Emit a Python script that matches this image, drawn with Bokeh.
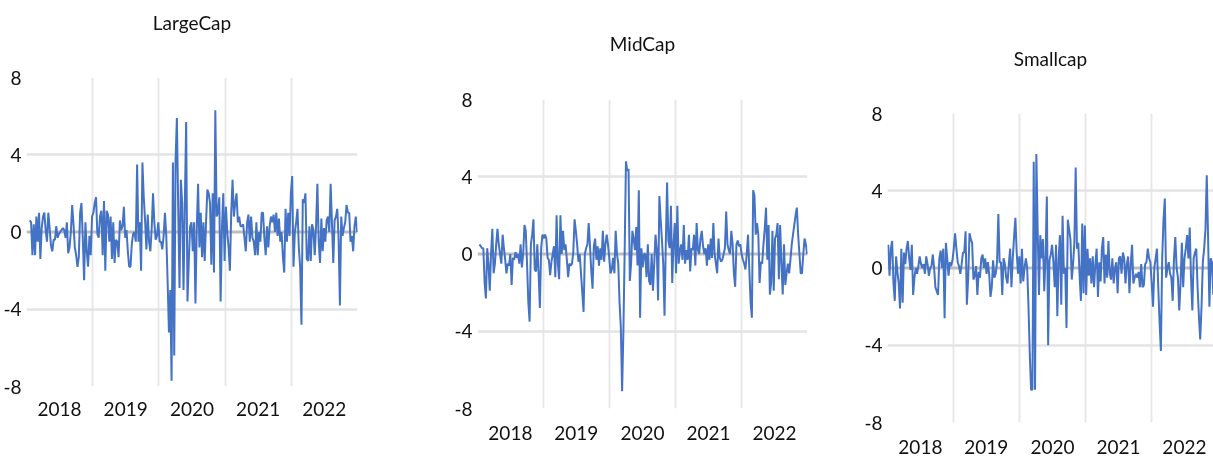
import pandas as pd
from bokeh.plotting import figure
from bokeh.models import FixedTicker, Range1d, Span, Title
from bokeh.embed import file_html
from bokeh.resources import INLINE

titles = ["LargeCap", "MidCap", "Smallcap"]
year_labels = ["2018", "2019", "2020", "2021", "2022"]
year_bounds = ["2019-01-01", "2020-01-01", "2021-01-01", "2022-01-01"]
y_ticks = [-8, -4, 0, 4, 8]
y_labels = ["-8", "-4", "0", "4", "8"]

large_cap = [0.6, 0.5, -1.2, 0.4, -1.2, 0.8, -0.5, 1.0, -1.4, 0.2, 0.8, 1.0, 0.1, -0.5, 1.0, 0.2, -0.7, -1.0,
             -0.4, -0.4, 0.3, -0.3, -0.1, 0.0, 0.1, 0.2, 0.1, -0.3, 0.5, -1.1, -0.8, 0.0, 1.4, 0.4, -0.8, -1.2,
             -1.8, -1.3, 1.0,
             1.5, -0.3, -2.5, 0.5, -1.0, -1.8, -0.2, -1.2, 0.8, 1.0, 1.5, 1.8, -0.1, -0.3, 0.8, 1.1, -1.2, 1.6,
             -2.0, 1.1, 0.9, -0.5, 0.8, -1.4, 0.5, -1.6, -0.4, -0.5, -1.3, 0.6, 0.1, 0.3, 1.3, -0.3, 0.1, -1.0,
             -1.8, -1.8, -0.6, -0.1, 0.0, -0.5, 3.5, -0.5, 0.5, -2.0, 3.6, 1.8, 0.6, -0.9, 0.9, -0.5, -1.0, 0.2,
             2.0, 0.5, -0.4, -0.2, 0.5, -0.5, -0.5, -0.9, -0.2, 1.0, -0.2, -2.5, -5.2, -3.0, -7.7, 3.6, -6.4, 3.7,
             5.9, 1.2, -2.9, 2.7, 1.5, -3.0, 1.5, 5.7, -3.6, -1.5, 0.3, 0.5, -1.0, 0.5, -3.7, 0.2, 2.5,
             -0.8, 1.0, -1.3, 0.5, -1.5, 0.5, 2.2, 2.0, 1.5, -1.7, 2.0, -2.1, 6.3, 0.8, 1.0, 1.8, -3.6, 0.2, 2.0,
             -1.5, 1.3, 0.0, -0.8, -2.0, 1.0, 2.7, 0.8, 1.5, 2.0, 0.5, 0.8, 0.3, 0.3, 0.4, -0.3, -1.0, 0.5, 0.9,
             -0.5, 0.8, -0.3, -0.5, -1.2, 0.5, -1.2, 0.0, -0.5, 1.0, 1.0, -0.3, -1.2, 0.3, -0.8, 0.3, 0.8,
             0.5, 0.9, 0.0, 1.0, -0.2, 0.7, -0.5, 0.0, -1.3, -2.1, 1.2, -0.5, 1.0, -0.2, 2.0, 2.9, -1.8, 0.0, 0.5,
             1.2, -0.8, -1.8, -4.8, 1.7, 1.5, 2.0, -1.4, -1.5, 0.3, -1.5, 0.4, 0.1, -1.2, 0.3, 2.5, -0.5, -1.6,
             0.7, -1.0, 0.2, -0.5, 0.6, 0.8, 0.0, 2.5, 0.5, -1.6, 0.6, 0.8, 1.2, -0.3, -3.8, 0.8, -0.2, 0.2, 0.5,
             1.4, 1.0, 1.0, -0.5, -0.2, -1.0, 0.3, 0.8, 0.0]

mid_cap = [0.5, 0.4, 0.3, 0.3, -1.5, -2.3, 0.3, -0.5, -1.9, 0.0, 1.3, -1.0, -0.5, 0.5, 1.3, 0.5, 0.0, -0.5,
           1.0, 0.3, -0.3, -1.0, -0.5, -0.6, 0.0, -1.6, -0.2, -0.3, 0.1, -0.2, 0.0, -0.5, 0.5, -0.7, 0.0, 1.5,
           1.2, -0.5, -2.5, -3.5, 0.5, 1.0, 1.8, -0.8, -0.9, 0.5, -1.0, -2.8, 0.3, 1.0, 0.8, 1.0, 0.8, -0.2,
           -0.3, -1.1, -0.4, 0.0, 0.4, -1.2, 2.0, -0.5, -1.3, 2.0, 0.0, 1.2, 0.2, 0.5, -0.3, -1.2, -0.5, -0.6,
           -0.5, 0.1, 1.8, 1.2, 0.5, -0.4, 0.0, -1.0, -2.0, -3.0, 0.0, 0.3, 0.5, 1.6, 0.4, -0.9, -1.8, 0.4, 0.8,
           -0.3, 0.4, -0.6, 0.3, -0.3, 1.2, -0.4, 0.5, 1.0, 0.5, -0.2, -1.0, -0.8, -0.2, -1.0, 1.2, 0.0, -0.5,
           -2.5, -3.8, -7.1, -4.0, 0.2, 4.8, 4.3, 4.4, -1.4, -0.5, 1.2, 0.8, 0.2, 1.4, -0.6, 3.3, -3.3, 0.3,
           -0.7, 0.0, 0.0, -1.2, 0.5, -1.4, -1.6, 0.0, -1.9, -0.5, 1.0, 0.2, -2.4, 3.0, 1.8, 0.7, -0.5, -3.2,
           0.5, 3.7, 0.7, 0.3, 2.5, -1.5, 0.5, 1.6, -1.0, 2.5, -0.5, 0.2, 0.5, -0.3, 1.5, -0.5, 0.2, -0.3, 1.0,
           -0.9, 0.3, 0.2, 1.0, -0.6, 1.6, 0.2, 0.0, 0.8, 1.2, 0.4, 0.0, 0.3, -0.6, 0.5, -0.3, 0.8, -0.2, 1.6,
           0.0, -0.5, -1.0, 0.8, -0.2, -0.4, -0.3, 0.0, 0.3, 2.2, 0.5, 0.2, 0.0, 1.2, 0.5, -1.0, -1.7, 0.5, 0.7,
           0.4, 0.5, 0.0, -0.3, -0.5, -0.8, 0.0, 1.0, -0.8, -2.5, -3.3, 3.3, 3.0, 1.0, 1.6, 1.0, -1.5, -0.4,
           -0.5, 0.5, 1.3, 2.4, -0.3, 1.5, -2.1, -1.5, 1.2, -1.9, 0.8, 1.0, 1.6, -1.3, 1.5, -0.5, -2.1, 0.5,
           -1.6, -1.0, -0.5, -1.0, -0.3, 0.5, 1.0, 1.5, 2.0, 2.4, 1.0, 0.0, -1.0, -1.0, 0.0, 0.8, 0.5, 0.0]

small_cap = [1.2, -0.4, 1.0, 1.4, -0.8, -1.7, 0.6, -0.2, -0.8, -2.1, 1.0, -1.8, 0.8, 0.2, 1.0, 1.4, 0.5, -0.1,
             1.2, -1.4, -0.5, 0.0, -0.3, 0.1, 0.6, 0.2, 0.0, 0.2, -0.3, 0.6, 0.2, -0.4, 0.0, 0.1, 0.7, 0.0, -1.0,
             -1.2, -1.4, 0.5, 0.9, 0.0, 1.0, -2.6, 1.3, 0.5, -0.4, 0.3, 0.1, 0.4, 1.0, 1.8, 1.0, 0.3, 0.1, -0.3,
             0.2, 0.8, 0.8, 1.9, -1.9, -0.5, 1.8, 1.5, 1.3, -0.6, -0.4, 0.1, -1.4, -0.2, -0.5, 0.5, 0.7, 0.0, 0.5,
             -0.3, 0.3, -0.3, -1.5, -1.0, 0.4, -0.5, -0.3, 0.3, 2.8, 0.3, 0.3, -1.4, 0.5, 0.2, -0.5, -0.8, 0.2,
             1.0, -1.0, 0.5, 1.6, 2.6, 0.8, -0.3, 0.6, -0.8, 1.0, -0.7, 0.0, 0.5, 0.0, -2.0, -4.5, -6.3, -6.3,
             5.5, -6.3, 5.9, 2.0, -1.4, 1.7, 0.5, 1.5, -1.2, 0.6, 3.7, -4.0, 0.4, 0.7, 1.2, 0.3, -1.0, 1.2, -2.5,
             0.5, 1.7, -1.9, 2.7, -0.3, 0.0, -3.1, 2.5, 2.0, 1.5, -0.6, 0.2, 1.3, 5.2, 1.0, 1.3, -0.4, -1.7, 2.3,
             -1.3, 2.2, -1.4, 1.0, -0.4, 0.5, -0.8, 0.6, -1.0, 0.2, 1.0, -1.5, 0.3, -0.7, 1.0, 1.6, -0.8, 0.7,
             -0.5, 1.4, -0.3, -0.6, 0.5, -0.8, 0.0, 0.3, -1.3, 0.5, 0.6, -0.3, 0.8, 0.5, -0.8, 0.2, 0.6, -1.3,
             0.2, 1.2, -0.8, -0.5, -0.3, -0.5, -0.2, -1.0, 0.2, -1.0, -0.9, 0.2, 0.3, 1.0, 0.5, 0.3, -0.8, -2.0,
             0.0, 0.5, 1.0, -1.0, -2.8, -4.3, 0.5, 2.5, 3.6, -0.5, 0.0, 0.3, -0.3, -0.5, -1.7, 0.5, 1.6, 0.0,
             -0.5, -2.2, -0.8, 1.3, -1.0, 0.5, 1.0, 1.7, 0.5, 2.1, -0.5, -2.2, 0.5, 0.8, 1.0, -1.0, -2.5, -3.7,
             -2.0, 0.3, 1.0, 2.0, 4.8, 1.6, -2.0, 0.5, 0.3, -1.4]

series = [large_cap, mid_cap, small_cap]
data_start = ["2018-01-19", "2018-01-12", "2018-01-05"]
data_end = ["2022-12-30", "2022-12-30", "2022-12-09"]
range_end = ["2023-01-01", "2023-01-01", "2022-12-10"]


def ms(s):
    return int(pd.Timestamp(s).value // 10**6)


label_ticks = [ms(f"{y}-07-02") for y in year_labels]

# layout geometry (pixels)
fig_left = [0, 451, 861]
frame_w = [331, 330, 326]
frame_h = 309
b_left = [20, 20, 20]
b_right = [60, 40, 0]
b_top = [67, 91, 105]
title_gap = [38, 39, 38]
label_standoff = [15, 17, 17]

FONT = "Lato"
TXT = "#111111"
BLUE = "#4472C4"

figs = []
for i in range(3):
    dates = pd.date_range(data_start[i], data_end[i], periods=len(series[i]))
    p = figure(x_axis_type="datetime", output_backend="svg", toolbar_location=None,
               frame_width=frame_w[i], frame_height=frame_h,
               min_border_left=b_left[i], min_border_right=b_right[i],
               min_border_top=b_top[i], min_border_bottom=0,
               x_range=Range1d(pd.Timestamp("2018-01-01"), pd.Timestamp(range_end[i])),
               y_range=Range1d(-8, 8), title=None,
               styles={"position": "fixed", "left": f"{fig_left[i]}px", "top": "8px"})
    # spacer nearest the frame, then the visible title
    p.add_layout(Title(text=" ", text_font_size=f"{title_gap[i]}px", text_color="white", standoff=0), "above")
    p.add_layout(Title(text=titles[i], align="center", text_font=FONT, text_font_size="19px",
                       text_font_style="normal", text_color=TXT, standoff=0), "above")
    p.outline_line_color = None
    p.background_fill_color = "white"
    p.border_fill_color = "white"

    # grids
    p.ygrid.ticker = FixedTicker(ticks=[-4, 4])
    p.ygrid.grid_line_color = "#e4e4e4"
    p.ygrid.grid_line_width = 2.5
    p.xgrid.ticker = FixedTicker(ticks=[ms(d) for d in year_bounds])
    p.xgrid.grid_line_color = "#e6e6e6"
    p.xgrid.grid_line_width = 1.8

    p.add_layout(Span(location=0, dimension="width", line_color="#bdbdbd", line_width=3, level="underlay"))

    # y axis
    p.yaxis.ticker = FixedTicker(ticks=y_ticks)
    p.yaxis.major_label_overrides = {t: lab for t, lab in zip(y_ticks, y_labels)}
    p.yaxis.axis_line_color = None
    p.yaxis.major_tick_line_color = None
    p.yaxis.minor_tick_line_color = None
    p.yaxis.major_tick_out = 0
    p.yaxis.major_tick_in = 0
    p.yaxis.minor_tick_out = 0
    p.yaxis.major_label_standoff = 5
    p.yaxis.major_label_text_font = FONT
    p.yaxis.major_label_text_font_size = "19px"
    p.yaxis.major_label_text_color = TXT

    # x axis
    p.xaxis.ticker = FixedTicker(ticks=label_ticks)
    p.xaxis.major_label_overrides = {t: lab for t, lab in zip(label_ticks, year_labels)}
    p.xaxis.axis_line_color = None
    p.xaxis.major_tick_line_color = None
    p.xaxis.minor_tick_line_color = None
    p.xaxis.major_tick_out = 0
    p.xaxis.major_tick_in = 0
    p.xaxis.minor_tick_out = 0
    p.xaxis.major_label_standoff = label_standoff[i]
    p.xaxis.major_label_text_font = FONT
    p.xaxis.major_label_text_font_size = "19px"
    p.xaxis.major_label_text_color = TXT

    p.line(dates, series[i], line_color=BLUE, line_width=2)
    figs.append(p)

open("out.html", "w").write(file_html(figs, INLINE))
